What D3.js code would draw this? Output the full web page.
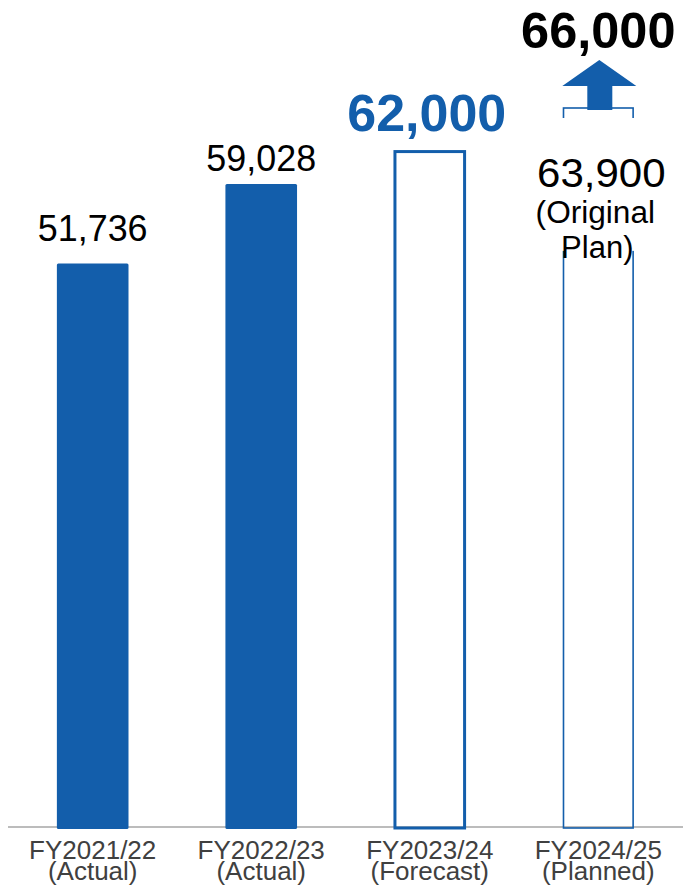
<!DOCTYPE html>
<html>
<head>
<meta charset="utf-8">
<script src="https://cdn.jsdelivr.net/npm/d3@7"></script>
<style>
  body { margin: 0; background: #fff; }
  svg { display: block; font-family: Arial, "Liberation Sans", sans-serif; }
</style>
</head>
<body>
<svg></svg>
<script>
// chart data
var categories = ["FY2021/22", "FY2022/23", "FY2023/24", "FY2024/25"];
var periodNotes = ["(Actual)", "(Actual)", "(Forecast)", "(Planned)"];
var values = [51736, 59028, 62000, 66000];
var valueLabels = ["51,736", "59,028", "62,000", "66,000"];
var planValue = 63900;
var planLabel = ["63,900", "(Original", "Plan)"];

var W = 683, H = 886;
var blue = "#135eab";

var svg = d3.select("svg").attr("width", W).attr("height", H);

var x = d3.scaleBand()
  .domain(categories)
  .range([8, 683])
  .paddingInner(0.575)
  .paddingOuter(0.29);

var y = d3.scaleLinear()
  .domain([0, 66000])
  .range([827, 108]);

// gap between bar top and value label (layout only)
var labelGap = [22, 13, 21];

// axis line
svg.append("line")
  .attr("x1", 8).attr("x2", W)
  .attr("y1", y(0)).attr("y2", y(0))
  .attr("stroke", "#a6a6a6")
  .attr("stroke-width", 1.5);

// solid bars (actuals)
svg.selectAll("rect.solid")
  .data(values.slice(0, 2))
  .enter()
  .append("rect")
  .attr("class", "solid")
  .attr("x", function(d, i) { return x(categories[i]); })
  .attr("y", function(d) { return y(d); })
  .attr("width", x.bandwidth())
  .attr("height", function(d) { return y(0) - y(d) + 2; })
  .attr("rx", 1.5)
  .attr("fill", blue);

// outlined bars (forecast / plan)
svg.selectAll("rect.outline")
  .data(values.slice(2))
  .enter()
  .append("rect")
  .attr("class", "outline")
  .attr("x", function(d, i) { return x(categories[i + 2]) + 1; })
  .attr("y", function(d) { return y(d); })
  .attr("width", x.bandwidth() - 2)
  .attr("height", function(d) { return y(0) - y(d) + 1; })
  .attr("fill", "none")
  .attr("stroke", blue)
  .attr("stroke-width", function(d, i) { return i === 0 ? 3 : 1.6; });

function label(cx, by, txt, size, sx, color, weight) {
  svg.append("text")
    .attr("transform", "translate(" + cx + "," + by + ") scale(" + sx + ",1)")
    .attr("text-anchor", "middle")
    .attr("font-size", size)
    .attr("font-weight", weight || "normal")
    .attr("fill", color)
    .text(txt);
}

// category labels, two lines
categories.forEach(function(c, i) {
  var cx = x(c) + x.bandwidth() / 2;
  label(cx, 859, c, 26, 1, "#404040");
  label(cx, 880, periodNotes[i], 26, 1, "#404040");
});

// value labels
values.slice(0, 2).forEach(function(v, i) {
  var cx = x(categories[i]) + x.bandwidth() / 2;
  label(cx, y(v) - labelGap[i], valueLabels[i], 37, 0.97, "#000");
});
var cx3 = x(categories[2]) + x.bandwidth() / 2;
label(cx3 - 3, y(values[2]) - labelGap[2], valueLabels[2], 51, 1.02, blue, "bold");

// plan bar: white box with original plan label
var cx4 = x(categories[3]) + x.bandwidth() / 2;
svg.append("rect")
  .attr("x", x(categories[3]) - 10)
  .attr("y", y(values[3]) + 10)
  .attr("width", x.bandwidth() + 20)
  .attr("height", y(planValue) + 120 - (y(values[3]) + 10))
  .attr("fill", "#fff");

label(cx4 + 3, 187, planLabel[0], 40, 1.05, "#000");
label(cx4 - 3, 223, planLabel[1], 31, 1.02, "#000");
label(cx4 - 1, 258, planLabel[2], 31, 1.0, "#000");

// upward arrow to revised plan
var top4 = y(values[3]);
var arrow = d3.path();
arrow.moveTo(cx4 - 11, top4 + 2);
arrow.lineTo(cx4 - 11, top4 - 22);
arrow.lineTo(cx4 - 36, top4 - 22);
arrow.lineTo(cx4 + 1, top4 - 48);
arrow.lineTo(cx4 + 38, top4 - 22);
arrow.lineTo(cx4 + 14, top4 - 22);
arrow.lineTo(cx4 + 14, top4 + 2);
arrow.closePath();
svg.append("path")
  .attr("d", arrow.toString())
  .attr("fill", blue);

label(cx4, 48, valueLabels[3], 50, 1.01, "#000", "bold");
</script>
</body>
</html>
